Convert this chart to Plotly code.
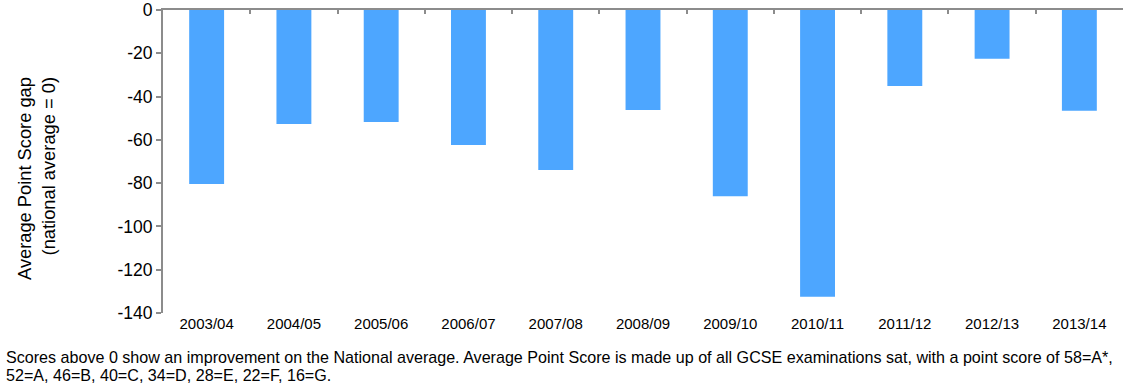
import plotly.graph_objects as go

# Academic years and the Average Point Score gap against the national average
years = ["2003/04", "2004/05", "2005/06", "2006/07", "2007/08", "2008/09",
         "2009/10", "2010/11", "2011/12", "2012/13", "2013/14"]
score_gap = [-80.4, -52.7, -51.8, -62.4, -73.9, -46.2, -86.0, -132.5, -35.1, -22.5, -46.5]

y_ticks = [0, -20, -40, -60, -80, -100, -120, -140]
y_tick_labels = ["0", "-20", "-40", "-60", "-80", "-100", "-120", "-140"]

footnote_lines = [
    "Scores above 0 show an improvement on the National average. Average Point Score is made up "
    "of all GCSE examinations sat, with a point score of 58=A*,",
    "52=A, 46=B, 40=C, 34=D, 28=E, 22=F, 16=G.",
]

BAR_COLOR = "#4da6ff"
AXIS_COLOR = "#8c8c8c"
FONT = "Liberation Sans, Arial, sans-serif"

fig = go.Figure()
fig.add_trace(go.Bar(x=years, y=score_gap, marker=dict(color=BAR_COLOR, line=dict(width=0)),
                     hoverinfo="x+y"))
# empty trace so the top category-boundary axis is drawn
fig.add_trace(go.Scatter(x=[], y=[], xaxis="x2", showlegend=False, hoverinfo="skip"))

fig.update_layout(
    width=1136, height=384,
    margin=dict(l=163, r=13, t=10, b=71, autoexpand=False),
    paper_bgcolor="white", plot_bgcolor="white",
    showlegend=False,
    bargap=0.6,
    font=dict(family=FONT, color="#000000"),
    xaxis=dict(
        type="category", showline=False, ticks="", showgrid=False, zeroline=False,
        automargin=False,
        tickfont=dict(size=15, family=FONT, color="#000000"),
    ),
    xaxis2=dict(
        overlaying="x", side="top", anchor="y", range=[-0.5, len(years) - 0.5],
        tickmode="array", tickvals=[i + 0.5 for i in range(len(years))],
        ticks="inside", ticklen=4, tickwidth=2, tickcolor=AXIS_COLOR,
        showticklabels=False, showline=True, linecolor=AXIS_COLOR, linewidth=2,
        showgrid=False, zeroline=False, automargin=False,
    ),
    yaxis=dict(
        range=[-140, 0], tickmode="array", tickvals=y_ticks, ticktext=y_tick_labels,
        ticks="outside", ticklen=5, tickwidth=2, tickcolor=AXIS_COLOR,
        showline=True, linecolor=AXIS_COLOR, linewidth=2,
        showgrid=False, zeroline=False, automargin=False,
        tickfont=dict(size=17.5, family=FONT, color="#000000"),
    ),
)

# rotated two-line axis title
fig.add_annotation(
    text="Average Point Score gap<br>(national average = 0)",
    textangle=-90, align="right",
    xref="paper", yref="paper", x=-0.1318, y=0.4439,
    xanchor="center", yanchor="middle", showarrow=False,
    font=dict(size=18.3, family=FONT, color="#000000"),
)

# footnote below the chart, one annotation per line
for i, line in enumerate(footnote_lines):
    fig.add_annotation(
        text=line, align="left",
        xref="paper", yref="paper",
        x=-0.1656, y=(313 - (357 + 18 * i)) / 303,
        xanchor="left", yanchor="middle", showarrow=False,
        font=dict(size=16.1, family=FONT, color="#000000"),
    )

fig.write_html("out.html")
